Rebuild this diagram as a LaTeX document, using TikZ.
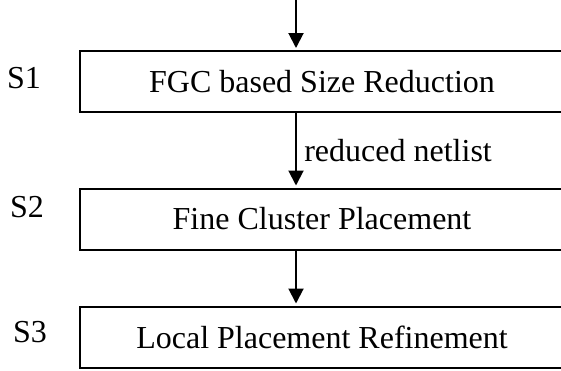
\documentclass[tikz,border=0pt]{standalone}
\usepackage{fontspec}
\setmainfont{Liberation Serif}
\usetikzlibrary{arrows.meta,positioning}

\begin{document}
\begin{tikzpicture}[x=1pt,y=1pt,>={Triangle[width=15pt,length=15pt]},
                    shorten >=2pt,line width=2pt,
                    font=\fontsize{32}{38}\selectfont,
                    stage/.style={draw,rectangle,minimum width=484pt,
                                  minimum height=61pt,inner sep=0pt}]

  \useasboundingbox (0,0) rectangle (561,-370);

  \node[stage]  (s1) at (322,-81.5)              {FGC based Size Reduction};
  \node[stage]  (s2) [below of=s1, node distance=137.5pt] {Fine Cluster Placement};
  \node[stage]  (s3) [below of=s2, node distance=118pt]   {Local Placement Refinement};

  \node         (l1) at (24,-78.5)   {S1};
  \node         (l2) at (27,-207)    {S2};
  \node         (l3) at (30,-332.5)  {S3};

  \coordinate   (in) at (296,2);

  \draw[->] (in) -- (in |- s1.north);
  \draw[->] (s1.south -| in) -- node[right,xshift=4pt] {reduced netlist} (s2.north -| in);
  \draw[->] (s2.south -| in) -- (s3.north -| in);
\end{tikzpicture}
\end{document}
